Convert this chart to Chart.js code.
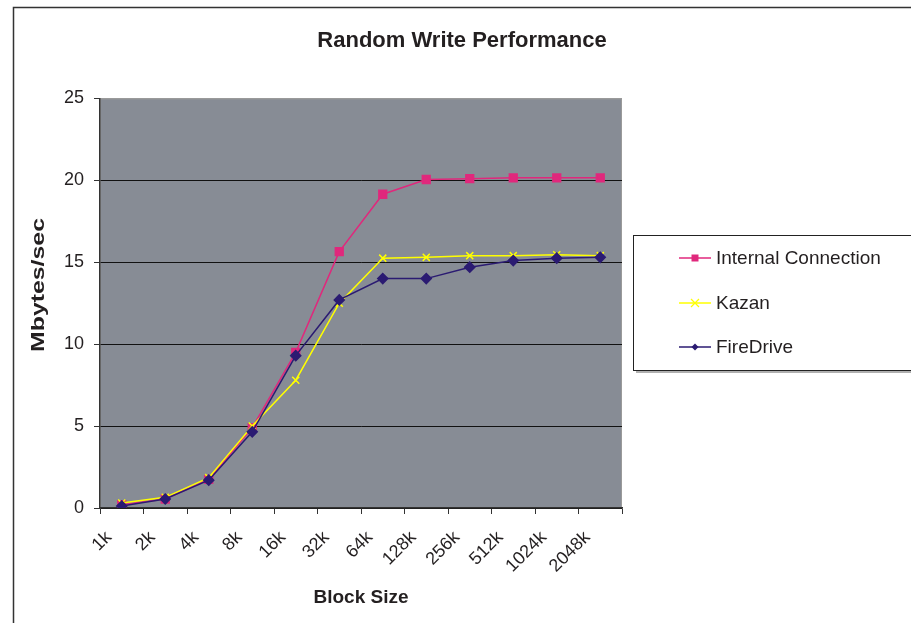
<!DOCTYPE html>
<html lang="en">
<head>
    <meta charset="UTF-8">
    <title>Random Write Performance</title>
    <style>
        body {
            margin: 0;
            background: #ffffff;
        }

        .container {
            width: 911px;
            height: 623px;
        }
    </style>
</head>
<body>
    <div class="container">
        <canvas id="writeChart" width="911" height="623"></canvas>
    </div>

    <script src="https://cdn.jsdelivr.net/npm/chart.js"></script>
    <script>
        // data
        const blockSizes = ['1k', '2k', '4k', '8k', '16k', '32k', '64k', '128k', '256k', '512k', '1024k', '2048k'];
        const internalConnection = [0.2, 0.55, 1.75, 4.9, 9.5, 15.65, 19.15, 20.05, 20.1, 20.15, 20.15, 20.15];
        const kazan = [0.3, 0.65, 1.85, 5.0, 7.8, 12.5, 15.25, 15.3, 15.4, 15.4, 15.45, 15.4];
        const fireDrive = [0.12, 0.55, 1.7, 4.65, 9.3, 12.7, 14.0, 14.0, 14.7, 15.1, 15.25, 15.3];
        const yTicks = [0, 5, 10, 15, 20, 25];

        const fontFamily = '"Liberation Sans", Arial, sans-serif';
        const textColor = '#231f20';

        // background of the plot area, outer frame and y title
        const frameAndBackground = {
            id: 'frameAndBackground',
            beforeDraw(chart) {
                const { ctx, chartArea } = chart;
                ctx.save();
                ctx.fillStyle = '#878c95';
                ctx.fillRect(chartArea.left, chartArea.top, chartArea.right - chartArea.left, chartArea.bottom - chartArea.top);
                ctx.strokeStyle = '#9a9a9a';
                ctx.lineWidth = 1;
                ctx.strokeRect(chartArea.left + 0.5, chartArea.top + 0.5, chartArea.right - chartArea.left - 1, chartArea.bottom - chartArea.top - 1);
                ctx.strokeStyle = '#333333';
                ctx.lineWidth = 1.5;
                ctx.strokeRect(13.5, 7.5, 920, 640);
                ctx.restore();
            },
            afterDraw(chart) {
                // excel stretches this title along its length
                const ctx = chart.ctx;
                ctx.save();
                ctx.translate(39, 285);
                ctx.rotate(-Math.PI / 2);
                ctx.scale(1.38, 1);
                ctx.font = 'bold 18px ' + fontFamily;
                ctx.fillStyle = textColor;
                ctx.textAlign = 'center';
                ctx.textBaseline = 'middle';
                ctx.fillText('Mbytes/sec', 0, 0);
                ctx.restore();
            }
        };

        function drawMarker(ctx, style, x, y, r, color) {
            ctx.fillStyle = color;
            ctx.strokeStyle = color;
            ctx.beginPath();
            if (style === 'rect') {
                ctx.rect(x - r, y - r, 2 * r, 2 * r);
                ctx.fill();
            } else if (style === 'rectRot') {
                ctx.moveTo(x, y - r);
                ctx.lineTo(x + r, y);
                ctx.lineTo(x, y + r);
                ctx.lineTo(x - r, y);
                ctx.closePath();
                ctx.fill();
            } else {
                ctx.lineWidth = 1.2;
                ctx.moveTo(x - r, y - r);
                ctx.lineTo(x + r, y + r);
                ctx.moveTo(x + r, y - r);
                ctx.lineTo(x - r, y + r);
                ctx.stroke();
            }
        }

        // excel style legend box on the right
        const boxLegend = {
            id: 'boxLegend',
            afterDraw(chart) {
                const ctx = chart.ctx;
                const rows = [258, 303, 347];
                ctx.save();
                ctx.fillStyle = '#b0b0b0';
                ctx.fillRect(636, 371, 280, 2);
                ctx.fillStyle = '#ffffff';
                ctx.fillRect(633, 235, 290, 135);
                ctx.strokeStyle = '#222222';
                ctx.lineWidth = 1;
                ctx.strokeRect(633.5, 235.5, 290, 135);
                chart.data.datasets.forEach((ds, i) => {
                    const y = rows[i];
                    ctx.strokeStyle = ds.borderColor;
                    ctx.lineWidth = 1.5;
                    ctx.beginPath();
                    ctx.moveTo(679, y);
                    ctx.lineTo(711, y);
                    ctx.stroke();
                    drawMarker(ctx, ds.pointStyle, 695, y, ds.pointStyle === 'crossRot' ? 4 : 3.5, ds.borderColor);
                    ctx.font = '19px ' + fontFamily;
                    ctx.fillStyle = textColor;
                    ctx.textAlign = 'left';
                    ctx.textBaseline = 'middle';
                    ctx.fillText(ds.label, 716, y + 1);
                });
                ctx.restore();
            }
        };

        const ctx = document.getElementById('writeChart').getContext('2d');
        const writeChart = new Chart(ctx, {
            type: 'line',
            data: {
                labels: blockSizes,
                datasets: [{
                    label: 'Internal Connection',
                    data: internalConnection,
                    borderColor: '#e0287c',
                    backgroundColor: '#e0287c',
                    borderWidth: 1.5,
                    pointStyle: 'rect',
                    pointRadius: 5.5,
                    order: 2
                }, {
                    label: 'Kazan',
                    data: kazan,
                    borderColor: '#ffff00',
                    backgroundColor: '#ffff00',
                    borderWidth: 1.5,
                    pointStyle: 'crossRot',
                    pointRadius: 5,
                    pointBorderWidth: 1.5,
                    order: 1
                }, {
                    label: 'FireDrive',
                    data: fireDrive,
                    borderColor: '#2b1b72',
                    backgroundColor: '#2b1b72',
                    borderWidth: 1.5,
                    pointStyle: 'rectRot',
                    pointRadius: 5,
                    order: 0
                }]
            },
            options: {
                responsive: false,
                animation: false,
                layout: {
                    padding: { left: 13, right: 0, top: 0, bottom: 0 }
                },
                plugins: {
                    legend: { display: false },
                    tooltip: { enabled: false },
                    title: {
                        display: true,
                        text: 'Random Write Performance',
                        color: textColor,
                        font: { family: fontFamily, size: 22, weight: 'bold' },
                        padding: { top: 28, bottom: 44 }
                    }
                },
                scales: {
                    x: {
                        offset: true,
                        afterFit(scale) { scale.height = 115; },
                        grid: {
                            offset: true,
                            drawOnChartArea: false,
                            drawTicks: true,
                            tickLength: 6,
                            tickColor: '#333333'
                        },
                        border: { color: '#333333', width: 1.5 },
                        ticks: {
                            color: textColor,
                            font: { family: fontFamily, size: 18 },
                            minRotation: 45,
                            maxRotation: 45,
                            autoSkip: false,
                            labelOffset: -13,
                            padding: 13
                        },
                        title: {
                            display: true,
                            text: 'Block Size',
                            color: textColor,
                            font: { family: fontFamily, size: 19, weight: 'bold' },
                            padding: { top: 0, bottom: 14 }
                        }
                    },
                    y: {
                        min: 0,
                        max: 25,
                        afterFit(scale) { scale.width = 87; },
                        afterBuildTicks(scale) {
                            scale.ticks = yTicks.map(v => ({ value: v }));
                        },
                        grid: {
                            // top edge is the gray plot border, not a grid line
                            color: (c) => (c.tick && c.tick.value === 25 ? '#9a9a9a' : '#111111'),
                            lineWidth: 1,
                            drawTicks: true,
                            tickLength: 6,
                            tickColor: '#333333'
                        },
                        border: { color: '#333333', width: 1.5 },
                        ticks: {
                            color: textColor,
                            font: { family: fontFamily, size: 18 },
                            padding: 10
                        }
                    },
                    // empty axis that keeps room for the legend box
                    legendSpace: {
                        position: 'right',
                        afterFit(scale) { scale.width = 289; },
                        grid: { display: false },
                        border: { display: false },
                        ticks: { display: false }
                    }
                }
            },
            plugins: [frameAndBackground, boxLegend]
        });
    </script>
</body>
</html>
